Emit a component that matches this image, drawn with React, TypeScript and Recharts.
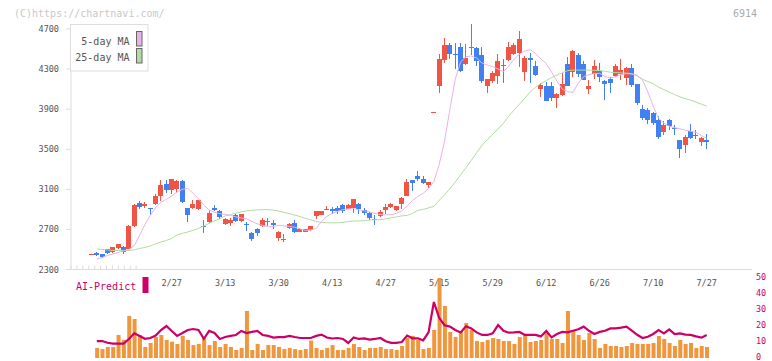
import React from 'react';
import { ComposedChart, Bar, Line, XAxis, YAxis } from 'recharts';

// Daily OHLC prices (index = trading day)
const OPEN = [
  2450, 2460, 2450, 2500, 2470, 2515, 2525, 2505, 2730, 2960,
  2935, 2910, 2955, 3035, 3150, 3095, 3105, 3185, 2910, 2915,
  2900, 2735, 2775, 2915, 2885, 2755, 2760, 2840, 2785, 2755,
  2665, 2700, 2735, 2770, 2760, 2610, 2595, 2710, 2765, 2675,
  2675, 2690, 2830, 2845, 2895, 2900, 2915, 2940, 2905, 2915,
  2955, 2890, 2865, 2800, 2830, 2890, 2925, 2890, 2950, 3035,
  3190, 3230, 3205, 3145, 3870, 4135, 4390, 4540, 4455, 4525,
  4350, 4520, 4515, 4440, 4135, 4180, 4235, 4340, 4390, 4455,
  4460, 4270, 4415, 4330, 4100, 4135, 4130, 4015, 4040, 4355,
  4270, 4440, 4355, 4100, 4255, 4280, 4180, 4205, 4230, 4250,
  4215, 4315, 4150, 3905, 3890, 3865, 3790, 3675, 3790, 3710,
  3590, 3545, 3680, 3640, 3575, 3590,
];
const HIGH = [
  2450, 2475, 2450, 2505, 2525, 2555, 2530, 2745, 2955, 2980,
  2975, 2915, 3055, 3190, 3195, 3200, 3195, 3190, 2915, 2990,
  2995, 2790, 2895, 2945, 2890, 2815, 2815, 2850, 2850, 2770,
  2670, 2715, 2815, 2815, 2790, 2685, 2650, 2760, 2790, 2710,
  2705, 2735, 2885, 2885, 2930, 2925, 2930, 2955, 2950, 3000,
  2960, 2915, 2875, 2840, 2890, 2950, 2960, 2935, 3025, 3200,
  3195, 3280, 3230, 3170, 3870, 4450, 4615, 4560, 4560, 4560,
  4550, 4750, 4520, 4525, 4200, 4280, 4455, 4400, 4575, 4560,
  4680, 4435, 4460, 4385, 4160, 4170, 4170, 4060, 4265, 4420,
  4490, 4465, 4380, 4190, 4390, 4365, 4190, 4225, 4350, 4400,
  4320, 4355, 4150, 3940, 3915, 3870, 3830, 3780, 3800, 3740,
  3595, 3645, 3750, 3690, 3620, 3655,
];
const LOW = [
  2450, 2430, 2410, 2455, 2460, 2505, 2455, 2500, 2720, 2905,
  2915, 2840, 2945, 2985, 3065, 3050, 3060, 2960, 2775, 2905,
  2895, 2665, 2765, 2880, 2800, 2740, 2735, 2775, 2770, 2685,
  2585, 2635, 2725, 2735, 2700, 2585, 2570, 2705, 2665, 2670,
  2670, 2685, 2805, 2840, 2890, 2855, 2855, 2860, 2900, 2865,
  2855, 2845, 2790, 2740, 2825, 2855, 2915, 2885, 2905, 3030,
  3085, 3185, 3155, 3115, 3870, 4065, 4365, 4400, 4300, 4275,
  4340, 4440, 4335, 4165, 4065, 4165, 4155, 4165, 4385, 4440,
  4325, 4180, 4165, 4235, 4025, 3980, 3980, 3915, 4035, 4130,
  4225, 4225, 4190, 4055, 4205, 4175, 3990, 4065, 4225, 4190,
  4140, 4125, 3945, 3790, 3755, 3740, 3600, 3640, 3695, 3645,
  3415, 3465, 3605, 3605, 3535, 3500,
];
const CLOSE = [
  2450, 2445, 2425, 2460, 2520, 2550, 2470, 2735, 2940, 2920,
  2955, 2905, 3030, 3140, 3090, 3200, 3185, 2970, 2845, 2950,
  2990, 2725, 2860, 2895, 2825, 2800, 2790, 2780, 2850, 2745,
  2600, 2660, 2790, 2785, 2745, 2675, 2605, 2755, 2670, 2700,
  2700, 2730, 2880, 2880, 2900, 2885, 2880, 2880, 2940, 3000,
  2905, 2865, 2815, 2790, 2875, 2925, 2950, 2930, 3010, 3175,
  3165, 3200, 3165, 3170, 3870, 4400, 4540, 4450, 4445, 4280,
  4415, 4525, 4385, 4180, 4200, 4265, 4380, 4330, 4525, 4540,
  4605, 4415, 4390, 4240, 4140, 3985, 4015, 4050, 4150, 4135,
  4480, 4250, 4195, 4130, 4330, 4225, 4150, 4165, 4330, 4290,
  4315, 4140, 3965, 3815, 3790, 3765, 3625, 3740, 3735, 3700,
  3505, 3625, 3615, 3635, 3615, 3575,
];

// Moving averages
const MA5 = [
  null, 2405, 2420, 2440, 2455, 2470, 2485, 2500, 2537, 2642,
  2749, 2841, 2918, 2972, 3000, 3033, 3073, 3100, 3110, 3060,
  3005, 2942, 2894, 2870, 2857, 2850, 2840, 2825, 2815, 2805,
  2780, 2755, 2740, 2725, 2730, 2740, 2735, 2730, 2722, 2705,
  2690, 2695, 2710, 2780, 2830, 2860, 2880, 2897, 2905, 2907,
  2895, 2885, 2875, 2860, 2848, 2845, 2847, 2860, 2885, 2935,
  2990, 3030, 3060, 3110, 3175, 3350, 3580, 3900, 4200, 4370,
  4425, 4430, 4410, 4360, 4340, 4325, 4300, 4275, 4330, 4400,
  4450, 4480, 4495, 4455, 4400, 4355, 4270, 4180, 4100, 4075,
  4068, 4160, 4225, 4245, 4255, 4258, 4225, 4210, 4225, 4245,
  4255, 4250, 4240, 4190, 4070, 3930, 3810, 3760, 3730, 3715,
  3705, 3690, 3680, 3670, 3635, 3610,
];
const MA25 = [
  null, 2505, 2500, 2495, 2490, 2490, 2490, 2490, 2495, 2510,
  2520, 2535, 2555, 2575, 2590, 2610, 2645, 2660, 2675, 2690,
  2710, 2735, 2760, 2785, 2807, 2835, 2850, 2862, 2875, 2885,
  2890, 2895, 2897, 2897, 2892, 2883, 2870, 2857, 2843, 2828,
  2810, 2795, 2780, 2770, 2767, 2765, 2766, 2770, 2778, 2783,
  2785, 2788, 2793, 2797, 2797, 2805, 2815, 2825, 2835, 2840,
  2860, 2890, 2900, 2915, 2930, 2990, 3045, 3107, 3172, 3245,
  3315, 3390, 3465, 3540, 3595, 3650, 3703, 3760, 3830, 3893,
  3950, 4010, 4072, 4120, 4155, 4187, 4215, 4240, 4263, 4285,
  4290, 4290, 4290, 4290, 4288, 4285, 4278, 4268, 4265, 4262,
  4260, 4255, 4230, 4200, 4175, 4155, 4120, 4095, 4070, 4045,
  4023, 4005, 3990, 3970, 3950, 3930,
];

// AI-Predict panel
const AI_BARS = [
  null, 6.3, 5.6, 6.9, 6.9, 14.4, 11.3, 26.3, 24.4, 14.4,
  6.9, 9.4, 13.1, 14.4, 11.3, 10.2, 8.8, 13.8, 11.3, 8.1,
  8.8, 12.5, 8.1, 10.6, 6.9, 8.8, 6.9, 5.0, 6.3, 29.4,
  5.0, 8.8, 5.0, 8.1, 8.1, 6.9, 5.6, 6.3, 5.6, 5.0,
  5.6, 10.9, 6.3, 5.0, 6.3, 8.1, 5.0, 5.0, 6.3, 8.8,
  6.9, 5.0, 6.3, 6.3, 6.9, 5.6, 5.6, 5.0, 7.5, 12.5,
  13.8, 11.3, 5.6, 6.3, 17.5, 50.0, 32.5, 16.3, 13.1, 16.9,
  21.9, 17.5, 10.6, 10.0, 11.3, 12.5, 11.9, 10.6, 10.6, 8.8,
  13.1, 14.4, 10.0, 10.6, 11.3, 15.6, 11.9, 11.9, 9.4, 29.4,
  17.5, 14.4, 11.3, 15.6, 11.9, 6.3, 8.8, 7.5, 7.5, 6.9,
  7.5, 9.4, 8.8, 8.8, 8.8, 9.4, 13.8, 11.9, 9.4, 7.5,
  11.3, 8.8, 9.4, 6.3, 7.5, 6.9,
];
const AI_LINE = [
  null, 10.6, 10.6, 9.5, 9.0, 9.0, 9.0, 11.9, 15.4, 13.8,
  12.0, 12.5, 14.0, 17.5, 20.0, 16.9, 13.8, 15.6, 17.5, 18.1,
  17.5, 12.0, 16.9, 15.6, 11.9, 13.1, 13.8, 14.4, 16.9, 15.6,
  16.3, 16.9, 14.4, 13.8, 12.8, 13.1, 13.1, 13.8, 13.1, 12.5,
  12.5, 12.5, 13.8, 14.6, 12.8, 12.2, 12.5, 11.9, 9.4, 12.8,
  11.9, 12.2, 11.5, 11.9, 12.5, 10.5, 9.5, 9.5, 10.0, 14.0,
  12.3, 12.3, 11.0, 16.0, 35.0, 25.0, 20.5, 19.6, 17.5, 16.0,
  19.8, 18.5, 16.0, 14.4, 14.4, 15.4, 20.6, 17.0, 15.8, 16.0,
  16.3, 14.4, 14.4, 14.4, 13.5, 16.9, 12.9, 15.0, 16.3, 16.0,
  17.0, 18.0, 19.6, 17.0, 15.0, 16.3, 17.0, 18.5, 18.5, 19.0,
  19.6, 17.1, 14.5, 12.5, 13.3, 15.0, 17.5, 15.4, 17.9, 15.0,
  15.4, 14.6, 14.4, 13.5, 12.7, 14.4,
];

// Axis ticks
const DATE_TICKS: [number, string][] = [
  [15, '2/27'], [25, '3/13'], [35, '3/30'], [45, '4/13'], [55, '4/27'],
  [65, '5/15'], [75, '5/29'], [85, '6/12'], [95, '6/26'], [105, '7/10'],
  [115, '7/27'],
];
const PRICE_TICKS = [2300, 2700, 3100, 3500, 3900, 4300, 4700];
const AI_TICKS = [0, 10, 20, 30, 40, 50];
const GRID_TICKS = [0, 1, 2, 3, 4, 5, 6, 7, 8, 9, 10, 11];

const MONO = '"DejaVu Sans Mono", "Liberation Mono", monospace';
const UP = '#f05444';
const DOWN = '#4080f0';
const MA5_COLOR = '#e8b2e8';
const MA25_COLOR = '#b2dba0';
const AI_COLOR = '#cc0066';
const BAR_COLOR = '#f0963c';
const AXIS = '#dcdcdc';
const LABEL = '#555';
const X_PADDING = { left: 17.8, right: 42.6 };

const rows = OPEN.map((o, i) => ({
  i,
  open: o,
  high: HIGH[i],
  low: LOW[i],
  close: CLOSE[i],
  ma5: MA5[i],
  ma25: MA25[i],
  ai: AI_BARS[i],
  aiLine: AI_LINE[i],
}));

const dateLabel = new Map(DATE_TICKS);

const Candle = (props: any) => {
  const { x, y, width, height, payload } = props;
  if (!payload) return null;
  const { open, close, high, low } = payload;
  const color = close >= open ? UP : DOWN;
  const span = high - low;
  const py = (v: number) => (span > 0 ? y + ((high - v) / span) * height : y);
  const cx = x + width / 2;
  const top = py(Math.max(open, close));
  const bot = py(Math.min(open, close));
  return (
    <g shapeRendering="crispEdges">
      <rect x={cx - 0.5} y={y} width={1} height={Math.max(height, 1)} fill={color} />
      <rect x={x} y={top} width={width} height={Math.max(bot - top, 1)} fill={color} />
    </g>
  );
};

const DateTick = (props: any) => {
  const { x, y, payload } = props;
  return (
    <text
      x={x}
      y={y + 13}
      textAnchor="middle"
      dominantBaseline="central"
      fontFamily={MONO}
      fontSize={8.5}
      fill={LABEL}
    >
      {dateLabel.get(payload.value) ?? ''}
    </text>
  );
};

const AiTick = (props: any) => {
  const { x, y, payload } = props;
  return (
    <text
      x={x}
      y={y - 1}
      textAnchor="start"
      dominantBaseline="central"
      fontFamily={MONO}
      fontSize={8.5}
      fill={AI_COLOR}
    >
      {payload.value}
    </text>
  );
};

export default function App() {
  return (
    <div
      style={{
        position: 'absolute',
        left: 0,
        top: 0,
        width: 772,
        height: 361,
        background: '#fff',
        overflow: 'hidden',
      }}
    >
      <div style={{ position: 'absolute', left: 0, top: 0 }}>
        <ComposedChart
          width={772}
          height={300}
          data={rows}
          margin={{ top: 24, right: 20, bottom: 0, left: 0 }}
        >
          <XAxis
            xAxisId="grid"
            type="number"
            domain={[0, 11]}
            ticks={GRID_TICKS}
            allowDataOverflow
            height={1}
            mirror
            tickSize={4}
            stroke={AXIS}
            tickFormatter={() => ''}
          />
          <XAxis
            xAxisId="cat"
            dataKey="i"
            type="category"
            padding={X_PADDING}
            height={30.5}
            axisLine={false}
            tickLine={false}
            tickSize={0}
            tickMargin={0}
            ticks={DATE_TICKS.map((t) => t[0])}
            interval={0}
            tick={<DateTick />}
          />
          <YAxis
            yAxisId="p"
            domain={[2300, 4750]}
            allowDataOverflow
            ticks={PRICE_TICKS}
            interval={0}
            width={71}
            tickSize={5}
            tickMargin={7}
            stroke={AXIS}
            tick={{ fill: LABEL, fontSize: 8.5, fontFamily: MONO }}
          />
          <Line
            xAxisId="cat"
            yAxisId="p"
            dataKey="ma25"
            stroke={MA25_COLOR}
            strokeWidth={1}
            dot={false}
            isAnimationActive={false}
          />
          <Line
            xAxisId="cat"
            yAxisId="p"
            dataKey="ma5"
            stroke={MA5_COLOR}
            strokeWidth={1}
            dot={false}
            isAnimationActive={false}
          />
          <Bar
            xAxisId="cat"
            yAxisId="p"
            dataKey={(d: any) => [d.low, d.high]}
            barSize={5}
            shape={<Candle />}
            isAnimationActive={false}
          />
        </ComposedChart>
      </div>

      <div style={{ position: 'absolute', left: 0, top: 268 }}>
        <ComposedChart
          width={772}
          height={93}
          data={rows}
          margin={{ top: 10, right: 0, bottom: 3, left: 71 }}
        >
          <XAxis dataKey="i" type="category" padding={X_PADDING} hide />
          <YAxis
            orientation="right"
            domain={[0, 50]}
            allowDataOverflow
            ticks={AI_TICKS}
            interval={0}
            width={20}
            axisLine={false}
            tickLine={false}
            tickSize={0}
            tickMargin={4}
            tick={<AiTick />}
          />
          <Bar dataKey="ai" fill={BAR_COLOR} barSize={4} isAnimationActive={false} />
          <Line
            dataKey="aiLine"
            stroke={AI_COLOR}
            strokeWidth={2.2}
            dot={false}
            isAnimationActive={false}
          />
        </ComposedChart>
      </div>

      <svg
        width={772}
        height={361}
        style={{ position: 'absolute', left: 0, top: 0, pointerEvents: 'none' }}
        fontFamily={MONO}
      >
        <text x={14} y={13} dominantBaseline="central" fontSize={10} fill="#c8c8c8">
          (C)https://chartnavi.com/
        </text>
        <text x={757} y={13} dominantBaseline="central" textAnchor="end" fontSize={10} fill="#aaa">
          6914
        </text>

        <rect x={70.5} y={24.5} width={77.5} height={46.5} fill="#fff" stroke="#ddd" />
        <text x={129.5} y={41} dominantBaseline="central" textAnchor="end" fontSize={10} fill={LABEL}>
          5-day MA
        </text>
        <rect x={136.5} y={31.5} width={5.5} height={14.5} fill={MA5_COLOR} stroke="#666" />
        <text x={129.5} y={57.5} dominantBaseline="central" textAnchor="end" fontSize={10} fill={LABEL}>
          25-day MA
        </text>
        <rect x={136.5} y={48.5} width={5.5} height={14.5} fill={MA25_COLOR} stroke="#666" />

        <text x={76} y={286} dominantBaseline="central" fontSize={10} fill={AI_COLOR}>
          AI-Predict
        </text>
        <rect x={142.5} y={277} width={6} height={16} fill={AI_COLOR} />
      </svg>
    </div>
  );
}
